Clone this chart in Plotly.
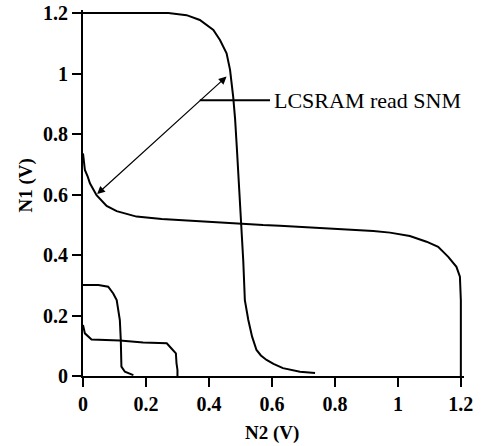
import plotly.graph_objects as go

# Curve A: N1 vs N2 (upper-left butterfly lobe, read condition)
curve_a_n2 = [0, 0.271, 0.329, 0.371, 0.414, 0.435, 0.456, 0.467, 0.477, 0.483, 0.489, 0.493,
              0.498, 0.504, 0.509, 0.514, 0.525, 0.537, 0.551, 0.565, 0.583, 0.605, 0.635, 0.689, 0.737]
curve_a_n1 = [1.2, 1.2, 1.193, 1.177, 1.144, 1.111, 1.067, 1.012, 0.923, 0.85, 0.747, 0.681,
              0.58, 0.494, 0.38, 0.251, 0.185, 0.13, 0.086, 0.068, 0.053, 0.04, 0.026, 0.014, 0.01]

# Curve B: mirrored inverter characteristic (read condition)
curve_b_n2 = [0, 0.003, 0.006, 0.015, 0.022, 0.043, 0.06, 0.075, 0.107, 0.14, 0.17, 0.25, 0.414,
              0.572, 0.625, 0.784, 0.922, 0.975, 1.038, 1.091, 1.128, 1.16, 1.186, 1.197, 1.2, 1.2]
curve_b_n1 = [0.736, 0.70, 0.681, 0.659, 0.637, 0.598, 0.58, 0.562, 0.545, 0.535, 0.527, 0.519, 0.508,
              0.499, 0.497, 0.488, 0.479, 0.474, 0.463, 0.444, 0.427, 0.394, 0.361, 0.328, 0.25, 0]

# Curve C: small butterfly, first characteristic
curve_c_n2 = [0, 0.049, 0.08, 0.096, 0.107, 0.112, 0.117, 0.120, 0.121, 0.122, 0.133, 0.160]
curve_c_n1 = [0.301, 0.301, 0.295, 0.273, 0.251, 0.22, 0.185, 0.119, 0.07, 0.031, 0.014, 0.003]

# Curve D: small butterfly, second characteristic
curve_d_n2 = [0, 0.006, 0.027, 0.117, 0.191, 0.266, 0.281, 0.295, 0.297, 0.30, 0.30]
curve_d_n1 = [0.169, 0.141, 0.121, 0.117, 0.111, 0.108, 0.091, 0.075, 0.042, 0.02, 0]

tick_vals = [0, 0.2, 0.4, 0.6, 0.8, 1.0, 1.2]
tick_text = ["0", "0.2", "0.4", "0.6", "0.8", "1", "1.2"]

label_text = "LCSRAM read SNM"
x_title = "N2 (V)"
y_title = "N1 (V)"

# layout geometry (pixels)
W, H = 482, 446
M_L, M_R, M_T, M_B = 83, 18, 10, 70
AX_MAX = 1.21
TICK_LEN = 9
plot_w = W - M_L - M_R
plot_h = H - M_T - M_B

fig = go.Figure()
for xs, ys in [(curve_a_n2, curve_a_n1), (curve_b_n2, curve_b_n1),
               (curve_c_n2, curve_c_n1), (curve_d_n2, curve_d_n1)]:
    fig.add_trace(go.Scatter(x=xs, y=ys, mode="lines", line=dict(color="black", width=2),
                             showlegend=False, hoverinfo="skip"))

# tick marks as unclipped line markers just outside the axes
off_y = (TICK_LEN / 2 + 1) * AX_MAX / plot_h
off_x = (TICK_LEN / 2 + 1) * AX_MAX / plot_w
fig.add_trace(go.Scatter(x=tick_vals, y=[-off_y] * len(tick_vals), mode="markers",
                         marker=dict(symbol="line-ns", size=TICK_LEN,
                                     line=dict(color="black", width=2)),
                         cliponaxis=False, showlegend=False, hoverinfo="skip"))
fig.add_trace(go.Scatter(x=[-off_x] * len(tick_vals), y=tick_vals, mode="markers",
                         marker=dict(symbol="line-ew", size=TICK_LEN,
                                     line=dict(color="black", width=2)),
                         cliponaxis=False, showlegend=False, hoverinfo="skip"))

tick_font = dict(family="Liberation Serif", size=20, color="black", weight="bold")
axis_common = dict(range=[0, AX_MAX], tickmode="array", tickvals=tick_vals, ticktext=tick_text,
                   showgrid=False, zeroline=False, showline=True, linecolor="black",
                   linewidth=2, ticks="outside", ticklen=TICK_LEN, tickwidth=2, tickcolor="black",
                   tickfont=tick_font)
fig.update_xaxes(**axis_common)
fig.update_yaxes(**axis_common)

# double-headed arrow marking the read SNM
fig.add_annotation(x=0.456, y=0.99, ax=0.04, ay=0.597, xref="x", yref="y",
                   axref="x", ayref="y", text="", showarrow=True,
                   arrowhead=2, startarrowhead=2, arrowside="end+start",
                   arrowsize=1.3, startarrowsize=1.3, arrowwidth=1.2, arrowcolor="black")
# callout line
fig.add_shape(type="line", x0=0.371, x1=0.594, y0=0.912, y1=0.912, xref="x", yref="y",
              line=dict(color="black", width=2))
fig.add_annotation(x=0.6, y=0.912, xref="x", yref="y", text=label_text, showarrow=False,
                   xanchor="left", yanchor="middle",
                   font=dict(family="Liberation Serif", size=22, color="black"))

# axis titles
title_font = dict(family="Liberation Serif", size=19, color="black", weight="bold")
fig.add_annotation(x=0.6, y=0, xref="x", yref="paper", yshift=-57, text=x_title,
                   showarrow=False, xanchor="center", yanchor="middle", font=title_font)
fig.add_annotation(x=0, y=0.63, xref="paper", yref="y", xshift=-57, text=y_title,
                   showarrow=False, xanchor="center", yanchor="middle", textangle=-90,
                   font=title_font)

fig.update_layout(template="none", width=W, height=H,
                  margin=dict(l=M_L, r=M_R, t=M_T, b=M_B),
                  plot_bgcolor="white", paper_bgcolor="white")

fig.write_html("out.html")
